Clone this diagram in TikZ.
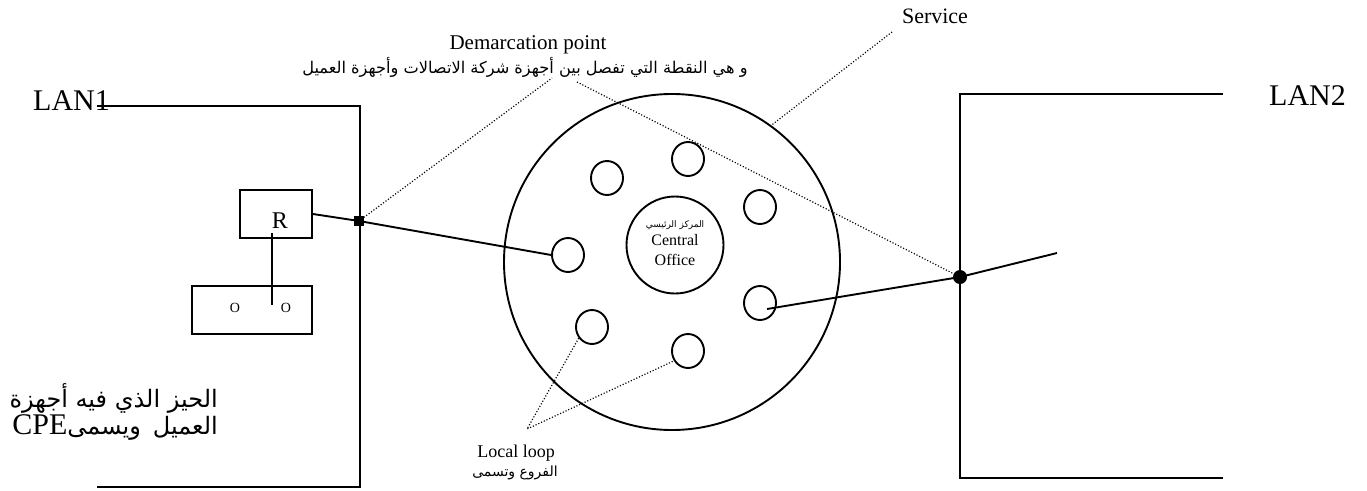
\documentclass[tikz,border=0pt]{standalone}
\usepackage{fontspec}
\setmainfont{Liberation Serif}
\newfontfamily\arabicfont[Script=Arabic]{DejaVu Sans}
\TeXXeTstate=1
\usetikzlibrary{shapes.geometric,calc}
\begin{document}
\begin{tikzpicture}[x=1pt,y=-1pt,
  wire/.style={line width=1.9pt},
  lead/.style={line width=1.2pt, dash pattern=on 1.1pt off 1.9pt},
  loopc/.style={draw, line width=1.9pt, ellipse, minimum width=32pt, minimum height=34pt, inner sep=0pt},
  box/.style={draw, line width=1.9pt, rectangle, inner sep=0pt},
  lbl/.style={inner sep=0pt, anchor=base},
  fs/.style={font=\fontsize{#1}{#1}\selectfont},
]
\useasboundingbox (0,0) rectangle (1367,490);

% LAN1 area
\draw[wire] (97,106) -- (360,106) -- (360,487) -- (97,487);
\node[lbl, fs=30] (lan1) at (71.5,110) {LAN1};

% LAN2 area
\draw[wire] (1223,94) -- (960,94) -- (960,478) -- (1223,478);
\node[lbl, fs=30] (lan2) at (1307.5,105) {LAN2};

% router and device box
\node[box, minimum width=72pt, minimum height=48pt] (R) at (276,214) {};
\node[lbl, fs=24] (Rt) at (280,228) {R};
\node[box, minimum width=120pt, minimum height=48pt] (OO) at (252,310) {};
\node[lbl, fs=14] (o1) at (235,312) {O};
\node[lbl, fs=14] (o2) at (286,312) {O};
\coordinate (Rbot) at (272,233);
\coordinate (OOin) at (272,305);
\draw[line width=1.5pt] (Rbot) -- (OOin);

% demarcation point
\node[rectangle, fill=black, minimum size=10pt, inner sep=0pt] (dm) at (359,221) {};

% cloud of the service
\node[draw, circle, line width=1.9pt, minimum size=336pt, inner sep=0pt] (big) at (672,262) {};
\node[draw, circle, line width=1.9pt, minimum size=97pt, inner sep=0pt] (co) at (675,245) {};
\node[lbl, fs=9] (coar) at (675,227) {\arabicfont\beginR المركز الرئيسي\endR};
\node[lbl, fs=16] (co1) at (675,245) {Central};
\node[lbl, fs=16] (co2) at (675,265) {Office};

\node[loopc] (c1) at (607,178) {};
\node[loopc] (c2) at (688,159) {};
\node[loopc] (c3) at (760,207) {};
\node[loopc] (c4) at (568,255) {};
\node[loopc] (c5) at (760,303) {};
\node[loopc] (c6) at (592,327) {};
\node[loopc] (c7) at (688,351) {};

% LAN2 junction
\node[circle, fill=black, minimum size=14pt, inner sep=0pt] (jn) at (960,277) {};

% wires
\draw[wire] (R.east) -- (dm.center) -- (c4.west);
\coordinate (c5in) at (767,309);
\coordinate (lan2end) at (1057,253);
\draw[wire] (c5in) -- (jn.center) -- (lan2end);

% labels and leader lines
\node[lbl, fs=22] (svc) at (935,23) {Service};
\coordinate (svcp) at (892,32);
\draw[lead] (svcp) -- (big.54);

\node[lbl, fs=21] (dmt) at (528,49) {Demarcation point};
\node[lbl, fs=16.2] (dmar) at (525,73) {\arabicfont\beginR و هي النقطة التي تفصل بين أجهزة شركة الاتصالات وأجهزة العميل\endR};
\coordinate (dmp1) at (552,78);
\coordinate (dmp2) at (577,82);
\draw[lead] (dm.center) -- (dmp1);
\draw[lead] (dmp2) -- (jn);

\coordinate (llp) at (527,429);
\draw[lead] (c6.220) -- (llp) -- (c7.215);
\node[lbl, fs=18] (ll) at (516,457) {Local loop};
\node[lbl, fs=14] (llar) at (515,476) {\arabicfont\beginR الفروع وتسمى\endR};

\node[inner sep=0pt, anchor=base east, fs=24] (cpe1) at (218,407) {\arabicfont\beginR الحيز الذي فيه أجهزة\endR};
\node[inner sep=0pt, anchor=base east, fs=24] (cpe2) at (218,434) {\arabicfont\beginR العميل\hspace{12pt}ويسمى\beginL{\rmfamily\fontsize{30}{30}\selectfont CPE}\endL\endR};
\end{tikzpicture}
\end{document}
